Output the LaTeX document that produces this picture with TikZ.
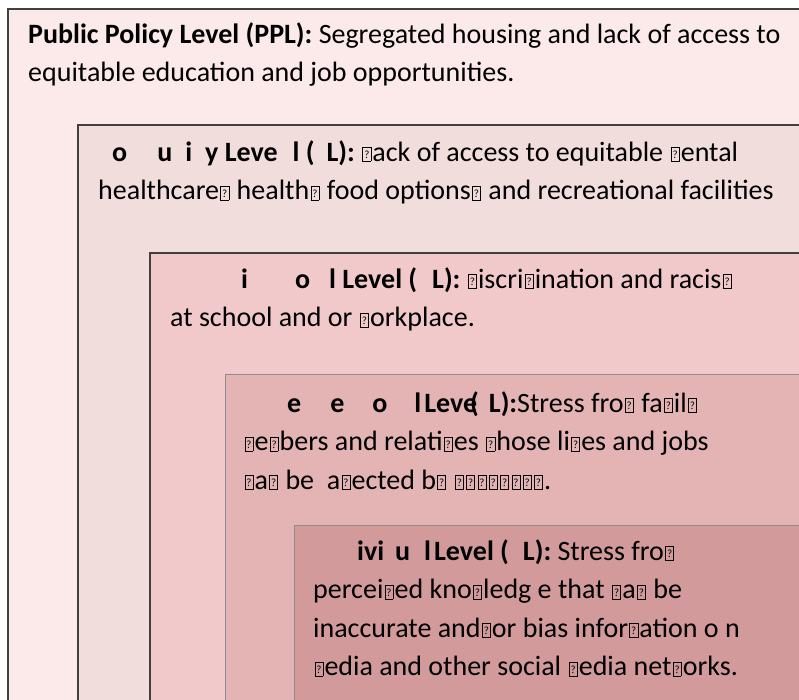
\documentclass[tikz,border=0pt]{standalone}
\usepackage{fontspec}
\setmainfont{Carlito}
\usepackage{tikz}
\usepackage{xcolor}
\definecolor{pplcolor}{HTML}{FCEAEA}
\definecolor{clcolor}{HTML}{F2DDDD}
\definecolor{ilcolor}{HTML}{F2C9CB}
\definecolor{iplcolor}{HTML}{E4B4B5}
\definecolor{indcolor}{HTML}{D29A9B}
\colorlet{darkframe}{black!75}
\colorlet{lightframe}{black!45}
% missing glyph box
\newcommand{\tofu}{{\kern1.3pt\setlength\fboxsep{0pt}\setlength\fboxrule{0.6pt}\fbox{\makebox[7.5pt]{\rule{0pt}{13.5pt}\raisebox{2.5pt}{\fontsize{11}{11}\selectfont ?}}}\kern1.3pt}}
\newcommand{\firstline}{\rule{0pt}{22pt}}

\begin{document}
\begin{tikzpicture}[x=1pt, y=-1pt]
	\tikzstyle{every node}=[font=\fontsize{28}{38.5}\selectfont, inner sep=0pt, anchor=north west, align=left]
	\useasboundingbox (0,0) rectangle (799,700);
	\clip (0,0) rectangle (799,700);
	% nested levels
	\draw [darkframe, fill=pplcolor, line width=1.3pt] (8,9) rectangle (830,730);
	\draw [darkframe, fill=clcolor, line width=1.1pt] (78,125) rectangle (830,730);
	\draw [darkframe, fill=ilcolor, line width=1.1pt] (150,253) rectangle (830,730);
	\draw [lightframe, fill=iplcolor, line width=1pt] (225,374) rectangle (830,730);
	\draw [lightframe, fill=indcolor, line width=1pt] (294,525) rectangle (830,730);
	% texts
	\node (ppl) at (28,21) {\firstline\textbf{Public Policy Level (PPL):} Segregated housing and lack of access to\\
		equitable education and job opportunities.};
	\node (cl) at (98,139) {\firstline\textbf{\hspace{14pt}o\hspace{30pt}u\hspace{13pt}i\hspace{13pt}y Leve\hspace{15pt}l (\hspace{12pt}L):} \tofu ack of access to equitable \tofu ental\\
		healthcare\tofu{} health\tofu{} food options\tofu{} and recreational facilities};
	\node (il) at (170,266) {\firstline\textbf{\hspace{71pt}i\hspace{47pt}o\hspace{19pt}l Level (\hspace{15pt}L):} \tofu iscri\tofu ination and racis\tofu\\
		at school and or \tofu orkplace.};
	\node (ipl) at (243,390) {\firstline\textbf{\hspace{44pt}e\hspace{29pt}e\hspace{28pt}o\hspace{27pt}l\hspace{3pt}Leve\hspace{-7pt}(\hspace{10pt}L):}Stress fro\tofu{} fa\tofu il\tofu\\
		\tofu e\tofu bers and relati\tofu es \tofu hose li\tofu es and jobs\\
		\tofu a\tofu{} be\ \ a\tofu ected b\tofu{} \tofu\tofu\tofu\tofu\tofu\tofu\tofu\tofu.};
	\node (ind) at (313,538) {\firstline\textbf{\hspace{44pt}ivi\hspace{11pt}u\hspace{14pt}l\hspace{3pt}Level (\hspace{14pt}L):} Stress fro\tofu\\
		percei\tofu ed kno\tofu ledg e that \tofu a\tofu{} be\\
		inaccurate and\tofu or bias infor\tofu ation o n\\
		\tofu edia and other social \tofu edia net\tofu orks.};
\end{tikzpicture}
\end{document}
